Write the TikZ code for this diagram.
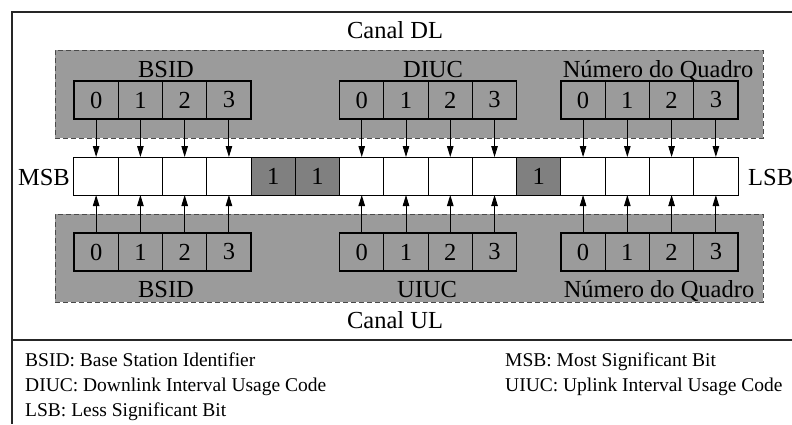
\documentclass[tikz,border=0pt]{standalone}
\usepackage{fontspec}
\setmainfont{Liberation Serif}
\usetikzlibrary{arrows.meta}
\definecolor{regionfill}{HTML}{9B9B9B}
\definecolor{darkcell}{HTML}{808080}
\definecolor{regionedge}{HTML}{4A4A4A}
\tikzset{
  big/.style={font=\fontsize{24.5}{28}\selectfont, inner sep=0pt},
  small/.style={font=\fontsize{19.5}{23}\selectfont, inner sep=0pt, anchor=base west},
  region/.style={draw=regionedge, fill=regionfill, line width=1pt,
    dash pattern=on 5pt off 3pt, rectangle, inner sep=0pt, outer sep=0pt,
    minimum width=708pt, minimum height=88pt},
  fieldbox/.style={draw=black, line width=1.2pt, rectangle, inner sep=0pt, outer sep=0pt,
    minimum width=44.27pt, minimum height=38pt, font=\fontsize{24.5}{28}\selectfont},
  cellbox/.style={draw=black, line width=1pt, fill=white, rectangle, inner sep=0pt, outer sep=0pt,
    minimum width=44.27pt, minimum height=38pt, font=\fontsize{24.5}{28}\selectfont},
  setcell/.style={cellbox, fill=darkcell},
  link/.style={-{Triangle[length=11pt,width=6.5pt]}, line width=0.9pt}
}
\begin{document}
\begin{tikzpicture}[x=1pt,y=-1pt]
\useasboundingbox (0,0) rectangle (792,424);
% frame and legend separator
\draw[line width=1.2pt, color=black!85] (792,12) -- (12,12) -- (12,424);
\draw[line width=1.2pt, color=black!85] (12,340) -- (792,340);

% downlink and uplink regions
\node[region] (dl) at (409,94) {};
\node[region] (ul) at (409,258) {};
\node[big, anchor=base] (canaldl) at (395,38) {Canal DL};
\node[big, anchor=base] (canalul) at (395,328) {Canal UL};

% field names
\node[big, anchor=base] (lbsidt) at (166,77) {BSID};
\node[big, anchor=base] (ldiuc) at (433,77) {DIUC};
\node[big, anchor=base] (lnqt) at (658,77) {Número do Quadro};
\node[big, anchor=base] (lbsidb) at (166,297) {BSID};
\node[big, anchor=base] (luiuc) at (427,297) {UIUC};
\node[big, anchor=base] (lnqb) at (659,297) {Número do Quadro};

% the 15-bit word
\foreach \i in {0,...,14} {
  \pgfmathsetmacro{\cx}{74+44.267*\i+22.13}
  \ifnum\i=4 \node[setcell] (m\i) at (\cx,176) {1};
  \else\ifnum\i=5 \node[setcell] (m\i) at (\cx,176) {1};
  \else\ifnum\i=10 \node[setcell] (m\i) at (\cx,176) {1};
  \else \node[cellbox] (m\i) at (\cx,176) {};
  \fi\fi\fi
}
\node[big, anchor=base east] (msb) at (70,185) {MSB};
\node[big, anchor=base west] (lsb) at (748,185) {LSB};

% field bits mapped onto the word
\foreach \g/\s in {a/0,b/6,c/11} {
  \foreach \k in {0,...,3} {
    \pgfmathtruncatemacro{\j}{\s+\k}
    \pgfmathsetmacro{\cx}{74+44.267*\j+22.13}
    \node[fieldbox] (t\g\k) at (\cx,100) {\k};
    \node[fieldbox] (b\g\k) at (\cx,252) {\k};
    \draw[link] (t\g\k.south) -- (m\j.north);
    \draw[link] (b\g\k.north) -- (m\j.south);
  }
}

% legend
\node[small] (g1) at (25,366) {BSID: Base Station Identifier};
\node[small] (g2) at (25,391) {DIUC: Downlink Interval Usage Code};
\node[small] (g3) at (25,416) {LSB: Less Significant Bit};
\node[small] (g4) at (505,366) {MSB: Most Significant Bit};
\node[small] (g5) at (505,391) {UIUC: Uplink Interval Usage Code};
\end{tikzpicture}
\end{document}
